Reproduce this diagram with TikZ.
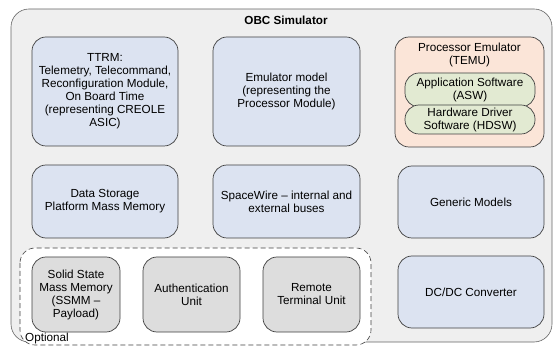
\documentclass[tikz,border=0pt]{standalone}
\usepackage{fontspec}
\setmainfont{Liberation Sans}
\usepackage{tikz}
\definecolor{boxblue}{HTML}{DCE3F1}
\definecolor{boxgray}{HTML}{DDDDDD}
\definecolor{boxorange}{HTML}{FBE5D8}
\definecolor{boxgreen}{HTML}{E2EAD2}
\definecolor{framegray}{HTML}{EFEFEF}
\definecolor{linegray}{HTML}{404040}
\tikzset{every node/.style={align=center, font=\fontsize{11.7}{13}\selectfont, inner sep=0pt}}
\tikzset{model/.style={draw=linegray, line width=0.7pt, rounded corners=14pt, fill=boxblue}}
\tikzset{optmodel/.style={model, fill=boxgray}}
\tikzset{sw/.style={draw=linegray, line width=0.7pt, rounded corners=14pt, fill=boxgreen, minimum width=130pt}}

\begin{document}
\begin{tikzpicture}[x=1pt, y=-1pt]
\useasboundingbox (0,0) rectangle (554,347);
% simulator frame
\draw[draw=linegray!80, line width=0.6pt, fill=framegray, rounded corners=18pt] (11,9) rectangle (552,342);
\node[font=\fontsize{11.7}{13}\selectfont\bfseries] (OBC) at (286,20) {OBC Simulator};
% optional area
\draw[draw=linegray, line width=0.6pt, fill=white, dash pattern=on 5pt off 3pt, rounded corners=15pt] (20,248) rectangle (371,345);
\node[anchor=west] (OPT) at (25,338) {Optional};
% first row
\node[model, minimum width=146pt, minimum height=109pt] (TTRM) at (105,91.5) {TTRM:\\Telemetry, Telecommand,\\Reconfiguration Module,\\On Board Time\\(representing CREOLE\\ASIC)};
\node[model, minimum width=147pt, minimum height=109pt] (EMU) at (286.5,91.5) {Emulator model\\(representing the\\Processor Module)};
\node[model, fill=boxorange, minimum width=149pt, minimum height=110pt] (TEMU) at (469.5,92) {};
\node (TEMUlbl) at (469.5,55) {Processor Emulator\\(TEMU)};
\node[sw, minimum height=34pt] (ASW) at (470,90) {Application Software\\(ASW)};
\node[sw, minimum height=29pt] (HDSW) at (470,119.5) {Hardware Driver\\Software (HDSW)};
% second row
\node[model, minimum width=146pt, minimum height=73pt] (DSPMM) at (105,201.5) {Data Storage\\Platform Mass Memory};
\node[model, minimum width=147pt, minimum height=73pt] (SPW) at (286.5,201.5) {SpaceWire -- internal and\\external buses};
\node[model, minimum width=146pt, minimum height=72pt] (GEN) at (471,202) {Generic Models};
% third row
\node[optmodel, minimum width=88pt, minimum height=75pt] (SSMM) at (76,294.5) {Solid State\\Mass Memory\\(SSMM --\\Payload)};
\node[optmodel, minimum width=97pt, minimum height=75pt] (AUTH) at (191.5,294.5) {Authentication\\Unit};
\node[optmodel, minimum width=97pt, minimum height=75pt] (RTU) at (311.5,294.5) {Remote\\Terminal Unit};
\node[model, minimum width=146pt, minimum height=72pt] (DCDC) at (471,292) {DC/DC Converter};
\end{tikzpicture}
\end{document}
